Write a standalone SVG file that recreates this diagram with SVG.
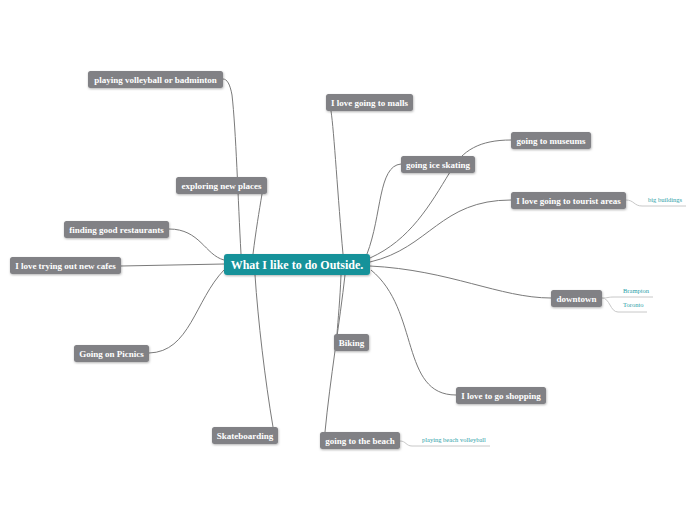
<svg xmlns="http://www.w3.org/2000/svg" width="696" height="520" viewBox="0 0 696 520">
<defs>
<filter id="sh" x="-10%" y="-30%" width="120%" height="170%">
<feDropShadow dx="0.5" dy="1" stdDeviation="0.8" flood-color="#000" flood-opacity="0.3"/>
</filter>
<style>
.n rect{fill:#818185;filter:url(#sh)}
.n text{fill:#fff;font-family:"Liberation Serif",serif;font-weight:bold;font-size:9px;text-anchor:middle}
.c rect{fill:#17929a;filter:url(#sh)}
.c text{fill:#fff;font-family:"Liberation Serif",serif;font-weight:bold;font-size:12px;text-anchor:middle}
.lk path{fill:none;stroke:#7a7a7a;stroke-width:1}
.lk path.s{stroke:#c8c8c8}
.sub text{fill:#2aa0a8;font-family:"Liberation Serif",serif;font-size:6.5px}
</style>
</defs>
<rect width="696" height="520" fill="#fff"/>
<g id="connectors" class="lk">
<path d="M241,254 C238,200 236,130 232,95 C230,84 227,79 223,79"/>
<path d="M253,254 C256,230 259,212 262,194"/>
<path d="M224,260 C205,255 200,229 169,229"/>
<path d="M224,264 L121,266"/>
<path d="M224,270 C195,300 190,352 149,353"/>
<path d="M255,275 C258,320 265,380 273,427"/>
<path d="M343,254 C338,200 334,130 331,111"/>
<path d="M367,254 C382,215 378,166 401,164"/>
<path d="M370,258 C410,240 430,205 450,172 C462,150 480,140 511,140"/>
<path d="M370,262 C430,248 440,200 511,200"/>
<path d="M370,266 C450,270 500,298 551,298"/>
<path d="M371,270 C420,310 400,395 456,395"/>
<path d="M341,275 C340,300 338,320 337,334"/>
<path d="M345,275 C340,320 330,380 325,432"/>
<path class="s" d="M626,200 C634,200 634,206 642,206 L686,206"/>
<path class="s" d="M602,298 C608,298 608,297 614,297 L653,297"/>
<path class="s" d="M602,298 C610,298 610,312 618,312 L647,312"/>
<path class="s" d="M400,441 C406,441 406,446 412,446 L490,446"/>
</g>
<g id="center" class="c"><rect x="224" y="254" width="146" height="21" rx="3"/><text x="297" y="268.5">What I like to do Outside.</text></g>
<g id="n-volleyball" class="n"><rect x="88" y="71" width="135" height="17" rx="2.5"/><text x="155.5" y="82.5">playing volleyball or badminton</text></g>
<g id="n-exploring" class="n"><rect x="176" y="177" width="91" height="17" rx="2.5"/><text x="221.5" y="188.5">exploring new places</text></g>
<g id="n-restaurants" class="n"><rect x="64" y="221" width="105" height="17" rx="2.5"/><text x="116.5" y="232.5">finding good restaurants</text></g>
<g id="n-cafes" class="n"><rect x="10" y="257" width="111" height="17" rx="2.5"/><text x="65.5" y="268.5">I love trying out new cafes</text></g>
<g id="n-picnics" class="n"><rect x="74" y="345" width="75" height="17" rx="2.5"/><text x="111.5" y="356.5">Going on Picnics</text></g>
<g id="n-skate" class="n"><rect x="212" y="427" width="66" height="17" rx="2.5"/><text x="245" y="438.5">Skateboarding</text></g>
<g id="n-malls" class="n"><rect x="326" y="94" width="87" height="17" rx="2.5"/><text x="369.5" y="105.5">I love going to malls</text></g>
<g id="n-museums" class="n"><rect x="511" y="132" width="80" height="17" rx="2.5"/><text x="551" y="143.5">going to museums</text></g>
<g id="n-ice" class="n"><rect x="401" y="156" width="74" height="17" rx="2.5"/><text x="438" y="167.5">going ice skating</text></g>
<g id="n-tourist" class="n"><rect x="511" y="192" width="115" height="17" rx="2.5"/><text x="568.5" y="203.5">I love going to tourist areas</text></g>
<g id="n-downtown" class="n"><rect x="551" y="290" width="51" height="17" rx="2.5"/><text x="576.5" y="301.5">downtown</text></g>
<g id="n-biking" class="n"><rect x="334" y="334" width="35" height="17" rx="2.5"/><text x="351.5" y="345.5">Biking</text></g>
<g id="n-shopping" class="n"><rect x="456" y="387" width="90" height="17" rx="2.5"/><text x="501" y="398.5">I love to go shopping</text></g>
<g id="n-beach" class="n"><rect x="320" y="432" width="80" height="17" rx="2.5"/><text x="360" y="443.5">going to the beach</text></g>
<g id="s-bigbuildings" class="sub"><text x="648" y="202">big buildings</text></g>
<g id="s-brampton" class="sub"><text x="623" y="293">Brampton</text></g>
<g id="s-toronto" class="sub"><text x="623" y="307">Toronto</text></g>
<g id="s-beachvolley" class="sub"><text x="422" y="442">playing beach volleyball</text></g>
</svg>
